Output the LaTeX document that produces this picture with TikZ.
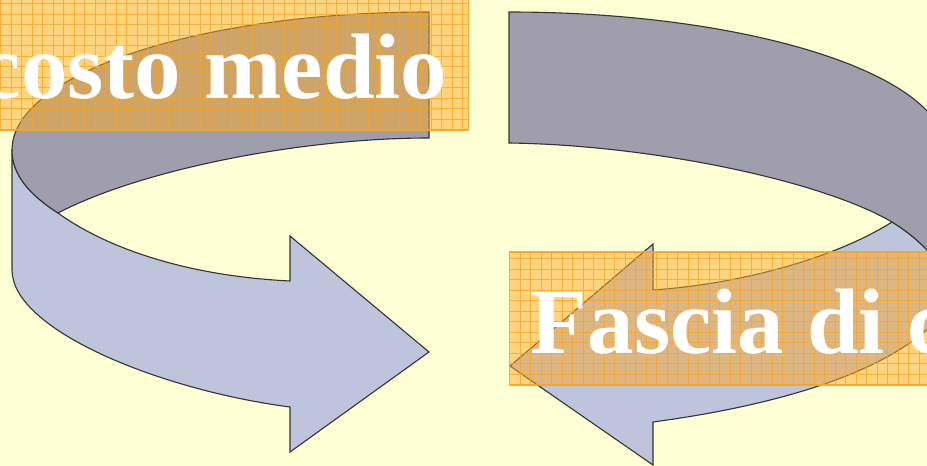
\documentclass[tikz,border=0pt]{standalone}
\usepackage{fontspec}
\setmainfont{Liberation Serif}
\definecolor{bg}{RGB}{255,255,213}
\definecolor{grayf}{RGB}{160,158,172}
\definecolor{bluef}{RGB}{190,196,220}
\definecolor{edge}{RGB}{51,51,51}
\definecolor{boxfill}{RGB}{255,170,40}
\definecolor{boxline}{RGB}{245,166,35}
\tikzset{
 face/.style={draw=edge, line width=1.1pt},
 grayface/.style={face, fill=grayf},
 blueface/.style={face, fill=bluef},
 gridline/.style={draw=boxline, draw opacity=0.75, line width=0.7pt, step=10.5pt},
 labelbox/.style={fill=boxfill, fill opacity=0.5, draw=boxline, draw opacity=0.9,
   line width=1.4pt, text=white, text opacity=1,
   font=\fontsize{93}{100}\selectfont\bfseries,
   inner xsep=21pt, inner ysep=0pt, text height=101pt, text depth=32pt,
   path picture={\draw[gridline] (path picture bounding box.south west) grid (path picture bounding box.north east);}},
}
\begin{document}
\begin{tikzpicture}[x=1pt,y=-1pt]
\useasboundingbox (0,0) rectangle (927,466);
\clip (0,0) rectangle (927,466);
\fill[bg] (0,0) rectangle (927,466);
% left arrow
\draw[blueface] (12,150) -- (12,270) .. controls (12,330) and (160,390) .. (290,407)
  -- (290,452) -- (429,352) -- (290,236) -- (290,281)
  .. controls (170,275) and (95,240) .. (58,213)
  .. controls (30,195) and (12,175) .. (12,150) -- cycle;
\draw[grayface] (429,12) -- (429,138) .. controls (300,138) and (140,170) .. (58,213)
  .. controls (30,195) and (12,175) .. (12,150)
  .. controls (12,74) and (199,12) .. (429,12) -- cycle;
% right arrow
\draw[blueface] (945,275) -- (945,310) .. controls (900,370) and (780,405) .. (653,422)
  -- (653,465) -- (510,366) -- (653,244) -- (653,290)
  .. controls (750,283) and (840,255) .. (892,222)
  .. controls (915,236) and (935,255) .. (945,275) -- cycle;
\draw[grayface] (509,12) -- (509,143) .. controls (650,145) and (820,180) .. (892,222)
  .. controls (915,236) and (935,255) .. (945,275) -- (945,150)
  .. controls (945,74) and (747,12) .. (509,12) -- cycle;
% labels
\node[labelbox, anchor=base east] (costo) at (469,98) {costo medio};
\node[labelbox, anchor=base west] (fascia) at (509,353) {Fascia di c};
\end{tikzpicture}
\end{document}
